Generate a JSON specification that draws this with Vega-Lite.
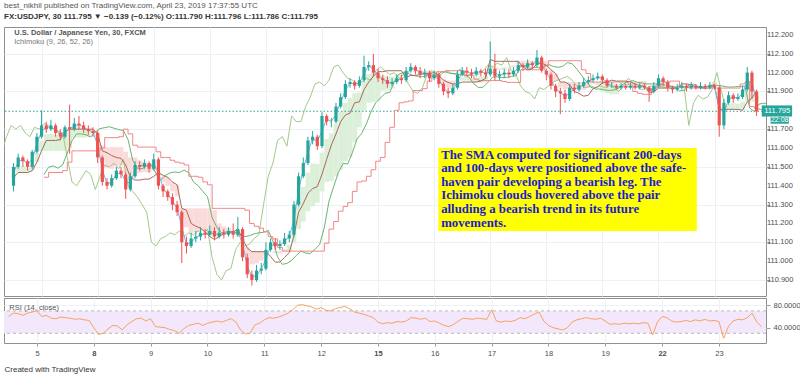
{
"$schema": "https://vega.github.io/schema/vega-lite/v6.json",
"background": "white",
"padding": {"left": 3, "top": 1, "right": 0, "bottom": 0},
"spacing": 0,
"config": {
  "font": "Liberation Sans",
  "view": {"stroke": "#8f8f8f", "strokeWidth": 1},
  "axis": {"labelFont": "Liberation Sans", "labelFontSize": 7.5, "labelColor": "#4d4d4d", "gridColor": "#edf0f4", "gridWidth": 1, "domain": false, "tickColor": "#9a9a9a", "labelOverlap": false, "labelBound": false, "labelFlush": false}
},
"title": {
  "text": "best_nikhil published on TradingView.com, April 23, 2019 17:37:55 UTC",
  "subtitle": "FX:USDJPY, 30  111.795 ▼ −0.139 (−0.12%)  O:111.790  H:111.796  L:111.786  C:111.795",
  "anchor": "start", "frame": "group", "font": "Liberation Sans", "fontSize": 8, "fontWeight": "normal", "color": "#555555",
  "subtitleFont": "Liberation Sans", "subtitleFontSize": 8, "subtitleFontWeight": "bold", "subtitleColor": "#333333", "subtitlePadding": 3, "offset": 6
},
"datasets": {"one": [{}],
"ticks": [{"v":110.9},{"v":111.0},{"v":111.1},{"v":111.2},{"v":111.3},{"v":111.4},{"v":111.5},{"v":111.6},{"v":111.7},{"v":111.9},{"v":112.0},{"v":112.1},{"v":112.2}],
"bars": [
{"k":0,"kc":-6.5,"kl":6.5,"o":111.40,"h":111.52,"l":111.37,"c":111.50,"tk":111.47,"kj":111.445,"sa":111.458,"sb":111.445,"r":60},
{"k":1,"kc":-5.5,"kl":7.5,"o":111.50,"h":111.57,"l":111.49,"c":111.55,"tk":111.525,"kj":111.47,"sa":111.498,"sb":111.47,"r":66},
{"k":2,"kc":-4.5,"kl":8.5,"o":111.55,"h":111.56,"l":111.50,"c":111.53,"tk":111.54,"kj":111.47,"sa":111.505,"sb":111.47,"r":65},
{"k":3,"kc":-3.5,"kl":9.5,"o":111.53,"h":111.54,"l":111.48,"c":111.50,"tk":111.515,"kj":111.47,"sa":111.493,"sb":111.47,"r":62},
{"k":4,"kc":-2.5,"kl":10.5,"o":111.50,"h":111.59,"l":111.49,"c":111.58,"tk":111.54,"kj":111.48,"sa":111.51,"sb":111.48,"r":66},
{"k":5,"kc":-1.5,"kl":11.5,"o":111.58,"h":111.68,"l":111.57,"c":111.66,"tk":111.62,"kj":111.525,"sa":111.573,"sb":111.525,"r":68},
{"k":6,"kc":-0.5,"kl":12.5,"o":111.66,"h":111.80,"l":111.65,"c":111.72,"tk":111.69,"kj":111.585,"sa":111.638,"sb":111.585,"r":70},
{"k":7,"kc":0.5,"kl":13.5,"o":111.72,"h":111.74,"l":111.68,"c":111.70,"tk":111.71,"kj":111.64,"sa":111.675,"sb":111.585,"r":60},
{"k":8,"kc":1.5,"kl":14.5,"o":111.70,"h":111.75,"l":111.69,"c":111.72,"tk":111.71,"kj":111.64,"sa":111.675,"sb":111.585,"r":62},
{"k":9,"kc":2.5,"kl":15.5,"o":111.72,"h":111.73,"l":111.66,"c":111.68,"tk":111.70,"kj":111.64,"sa":111.67,"sb":111.585,"r":57},
{"k":10,"kc":3.5,"kl":16.5,"o":111.68,"h":111.70,"l":111.64,"c":111.66,"tk":111.67,"kj":111.645,"sa":111.658,"sb":111.585,"r":56},
{"k":11,"kc":4.5,"kl":17.5,"o":111.66,"h":111.72,"l":111.65,"c":111.71,"tk":111.685,"kj":111.685,"sa":111.685,"sb":111.585,"r":59},
{"k":12,"kc":5.5,"kl":18.5,"o":111.71,"h":111.83,"l":111.57,"c":111.70,"tk":111.705,"kj":111.70,"sa":111.703,"sb":111.60,"r":58},
{"k":13,"kc":6.5,"kl":19.5,"o":111.70,"h":111.76,"l":111.69,"c":111.73,"tk":111.715,"kj":111.70,"sa":111.708,"sb":111.655,"r":57},
{"k":14,"kc":7.5,"kl":20.5,"o":111.73,"h":111.77,"l":111.70,"c":111.72,"tk":111.725,"kj":111.70,"sa":111.713,"sb":111.655,"r":55},
{"k":15,"kc":8.5,"kl":21.5,"o":111.72,"h":111.74,"l":111.68,"c":111.70,"tk":111.71,"kj":111.70,"sa":111.705,"sb":111.655,"r":56},
{"k":16,"kc":9.5,"kl":22.5,"o":111.70,"h":111.72,"l":111.67,"c":111.69,"tk":111.695,"kj":111.70,"sa":111.698,"sb":111.66,"r":54},
{"k":17,"kc":10.5,"kl":23.5,"o":111.69,"h":111.71,"l":111.66,"c":111.68,"tk":111.685,"kj":111.70,"sa":111.693,"sb":111.70,"r":53},
{"k":18,"kc":11.5,"kl":24.5,"o":111.68,"h":111.69,"l":111.52,"c":111.55,"tk":111.615,"kj":111.675,"sa":111.645,"sb":111.675,"r":40},
{"k":19,"kc":12.5,"kl":25.5,"o":111.55,"h":111.56,"l":111.40,"c":111.42,"tk":111.485,"kj":111.585,"sa":111.535,"sb":111.615,"r":28},
{"k":20,"kc":13.5,"kl":26.5,"o":111.42,"h":111.44,"l":111.38,"c":111.40,"tk":111.41,"kj":111.575,"sa":111.493,"sb":111.605,"r":30},
{"k":21,"kc":14.5,"kl":27.5,"o":111.40,"h":111.46,"l":111.39,"c":111.44,"tk":111.42,"kj":111.56,"sa":111.49,"sb":111.605,"r":38},
{"k":22,"kc":15.5,"kl":28.5,"o":111.44,"h":111.50,"l":111.43,"c":111.48,"tk":111.46,"kj":111.55,"sa":111.505,"sb":111.605,"r":44},
{"k":23,"kc":16.5,"kl":29.5,"o":111.48,"h":111.50,"l":111.44,"c":111.46,"tk":111.47,"kj":111.545,"sa":111.508,"sb":111.605,"r":43},
{"k":24,"kc":17.5,"kl":30.5,"o":111.46,"h":111.47,"l":111.33,"c":111.38,"tk":111.42,"kj":111.51,"sa":111.465,"sb":111.58,"r":36},
{"k":25,"kc":18.5,"kl":31.5,"o":111.38,"h":111.47,"l":111.37,"c":111.45,"tk":111.415,"kj":111.445,"sa":111.43,"sb":111.55,"r":45},
{"k":26,"kc":19.5,"kl":32.5,"o":111.45,"h":111.53,"l":111.44,"c":111.51,"tk":111.48,"kj":111.43,"sa":111.455,"sb":111.55,"r":51},
{"k":27,"kc":20.5,"kl":33.5,"o":111.51,"h":111.53,"l":111.48,"c":111.50,"tk":111.505,"kj":111.43,"sa":111.468,"sb":111.535,"r":56},
{"k":28,"kc":21.5,"kl":34.5,"o":111.50,"h":111.54,"l":111.49,"c":111.52,"tk":111.51,"kj":111.435,"sa":111.473,"sb":111.525,"r":57},
{"k":29,"kc":22.5,"kl":35.5,"o":111.52,"h":111.53,"l":111.47,"c":111.49,"tk":111.505,"kj":111.435,"sa":111.47,"sb":111.52,"r":52},
{"k":30,"kc":23.5,"kl":36.5,"o":111.49,"h":111.57,"l":111.48,"c":111.54,"tk":111.515,"kj":111.45,"sa":111.483,"sb":111.51,"r":56},
{"k":31,"kc":24.5,"kl":37.5,"o":111.54,"h":111.55,"l":111.38,"c":111.40,"tk":111.47,"kj":111.47,"sa":111.47,"sb":111.45,"r":42},
{"k":32,"kc":25.5,"kl":38.5,"o":111.40,"h":111.41,"l":111.34,"c":111.37,"tk":111.385,"kj":111.455,"sa":111.42,"sb":111.45,"r":41},
{"k":33,"kc":26.5,"kl":39.5,"o":111.37,"h":111.38,"l":111.32,"c":111.34,"tk":111.355,"kj":111.445,"sa":111.40,"sb":111.445,"r":40},
{"k":34,"kc":27.5,"kl":40.5,"o":111.34,"h":111.36,"l":111.27,"c":111.30,"tk":111.32,"kj":111.42,"sa":111.37,"sb":111.42,"r":37},
{"k":35,"kc":28.5,"kl":41.5,"o":111.30,"h":111.32,"l":111.24,"c":111.26,"tk":111.28,"kj":111.405,"sa":111.343,"sb":111.405,"r":35},
{"k":36,"kc":29.5,"kl":42.5,"o":111.26,"h":111.27,"l":110.99,"c":111.10,"tk":111.18,"kj":111.28,"sa":111.23,"sb":111.28,"r":30},
{"k":37,"kc":30.5,"kl":43.5,"o":111.10,"h":111.13,"l":111.04,"c":111.08,"tk":111.09,"kj":111.27,"sa":111.18,"sb":111.28,"r":38},
{"k":38,"kc":31.5,"kl":44.5,"o":111.08,"h":111.15,"l":111.07,"c":111.12,"tk":111.10,"kj":111.20,"sa":111.15,"sb":111.28,"r":44},
{"k":39,"kc":32.5,"kl":45.5,"o":111.12,"h":111.16,"l":111.10,"c":111.13,"tk":111.125,"kj":111.185,"sa":111.155,"sb":111.28,"r":46},
{"k":40,"kc":33.5,"kl":46.5,"o":111.13,"h":111.18,"l":111.11,"c":111.15,"tk":111.14,"kj":111.175,"sa":111.158,"sb":111.28,"r":48},
{"k":41,"kc":34.5,"kl":47.5,"o":111.15,"h":111.17,"l":111.12,"c":111.14,"tk":111.145,"kj":111.155,"sa":111.15,"sb":111.28,"r":44},
{"k":42,"kc":35.5,"kl":48.5,"o":111.14,"h":111.19,"l":111.13,"c":111.16,"tk":111.15,"kj":111.13,"sa":111.14,"sb":111.28,"r":48},
{"k":43,"kc":36.5,"kl":49.5,"o":111.16,"h":111.18,"l":111.11,"c":111.13,"tk":111.145,"kj":111.115,"sa":111.13,"sb":111.27,"r":50},
{"k":44,"kc":37.5,"kl":50.5,"o":111.13,"h":111.18,"l":111.12,"c":111.15,"tk":111.14,"kj":111.13,"sa":111.135,"sb":111.20,"r":52},
{"k":45,"kc":38.5,"kl":51.5,"o":111.15,"h":111.17,"l":111.12,"c":111.14,"tk":111.145,"kj":111.145,"sa":111.145,"sb":111.185,"r":50},
{"k":46,"kc":39.5,"kl":52.5,"o":111.14,"h":111.18,"l":111.13,"c":111.16,"tk":111.15,"kj":111.15,"sa":111.15,"sb":111.175,"r":53},
{"k":47,"kc":40.5,"kl":53.5,"o":111.16,"h":111.20,"l":111.12,"c":111.14,"tk":111.15,"kj":111.155,"sa":111.153,"sb":111.155,"r":56},
{"k":48,"kc":41.5,"kl":54.5,"o":111.14,"h":111.235,"l":111.13,"c":111.17,"tk":111.155,"kj":111.17,"sa":111.163,"sb":111.13,"r":50},
{"k":49,"kc":42.5,"kl":55.5,"o":111.17,"h":111.18,"l":111.00,"c":111.02,"tk":111.095,"kj":111.118,"sa":111.106,"sb":111.118,"r":36},
{"k":50,"kc":43.5,"kl":56.5,"o":111.02,"h":111.04,"l":110.91,"c":110.93,"tk":110.975,"kj":111.07,"sa":111.023,"sb":111.073,"r":29},
{"k":51,"kc":44.5,"kl":57.5,"o":110.93,"h":110.95,"l":110.87,"c":110.90,"tk":110.915,"kj":111.05,"sa":110.983,"sb":111.053,"r":30},
{"k":52,"kc":45.5,"kl":58.5,"o":110.90,"h":110.98,"l":110.89,"c":110.95,"tk":110.925,"kj":111.05,"sa":110.988,"sb":111.053,"r":45},
{"k":53,"kc":46.5,"kl":59.5,"o":110.95,"h":110.99,"l":110.93,"c":110.96,"tk":110.955,"kj":111.05,"sa":111.003,"sb":111.053,"r":48},
{"k":54,"kc":47.5,"kl":60.5,"o":110.96,"h":111.10,"l":110.95,"c":111.06,"tk":111.01,"kj":111.05,"sa":111.03,"sb":111.053,"r":54},
{"k":55,"kc":48.5,"kl":61.5,"o":111.06,"h":111.12,"l":111.05,"c":111.10,"tk":111.08,"kj":111.025,"sa":111.053,"sb":111.053,"r":58},
{"k":56,"kc":49.5,"kl":62.5,"o":111.10,"h":111.12,"l":111.06,"c":111.08,"tk":111.09,"kj":110.995,"sa":111.043,"sb":111.053,"r":57},
{"k":57,"kc":50.5,"kl":63.5,"o":111.08,"h":111.11,"l":111.06,"c":111.09,"tk":111.085,"kj":110.995,"sa":111.04,"sb":111.053,"r":59},
{"k":58,"kc":51.5,"kl":64.5,"o":111.09,"h":111.15,"l":111.08,"c":111.12,"tk":111.105,"kj":111.02,"sa":111.063,"sb":111.053,"r":62},
{"k":59,"kc":52.5,"kl":65.5,"o":111.12,"h":111.16,"l":111.10,"c":111.14,"tk":111.13,"kj":111.045,"sa":111.088,"sb":111.053,"r":66},
{"k":60,"kc":53.5,"kl":66.5,"o":111.14,"h":111.32,"l":111.13,"c":111.30,"tk":111.22,"kj":111.135,"sa":111.178,"sb":111.095,"r":72},
{"k":61,"kc":54.5,"kl":67.5,"o":111.30,"h":111.47,"l":111.29,"c":111.45,"tk":111.375,"kj":111.26,"sa":111.318,"sb":111.17,"r":80},
{"k":62,"kc":55.5,"kl":68.5,"o":111.45,"h":111.55,"l":111.44,"c":111.52,"tk":111.485,"kj":111.305,"sa":111.395,"sb":111.21,"r":81},
{"k":63,"kc":56.5,"kl":69.5,"o":111.52,"h":111.66,"l":111.51,"c":111.64,"tk":111.58,"kj":111.36,"sa":111.47,"sb":111.265,"r":79},
{"k":64,"kc":57.5,"kl":70.5,"o":111.64,"h":111.69,"l":111.62,"c":111.66,"tk":111.65,"kj":111.385,"sa":111.518,"sb":111.29,"r":77},
{"k":65,"kc":58.5,"kl":71.5,"o":111.66,"h":111.67,"l":111.59,"c":111.61,"tk":111.635,"kj":111.395,"sa":111.515,"sb":111.31,"r":73},
{"k":66,"kc":59.5,"kl":72.5,"o":111.61,"h":111.79,"l":111.60,"c":111.77,"tk":111.69,"kj":111.46,"sa":111.575,"sb":111.37,"r":76},
{"k":67,"kc":60.5,"kl":73.5,"o":111.77,"h":111.78,"l":111.72,"c":111.74,"tk":111.755,"kj":111.54,"sa":111.648,"sb":111.42,"r":71},
{"k":68,"kc":61.5,"kl":74.5,"o":111.74,"h":111.76,"l":111.71,"c":111.74,"tk":111.74,"kj":111.615,"sa":111.678,"sb":111.425,"r":70},
{"k":69,"kc":62.5,"kl":75.5,"o":111.74,"h":111.84,"l":111.73,"c":111.82,"tk":111.78,"kj":111.675,"sa":111.728,"sb":111.45,"r":74},
{"k":70,"kc":63.5,"kl":76.5,"o":111.82,"h":111.89,"l":111.81,"c":111.87,"tk":111.845,"kj":111.74,"sa":111.793,"sb":111.485,"r":76},
{"k":71,"kc":64.5,"kl":77.5,"o":111.87,"h":111.96,"l":111.86,"c":111.94,"tk":111.905,"kj":111.775,"sa":111.84,"sb":111.53,"r":78},
{"k":72,"kc":65.5,"kl":78.5,"o":111.94,"h":111.97,"l":111.92,"c":111.95,"tk":111.945,"kj":111.785,"sa":111.865,"sb":111.55,"r":74},
{"k":73,"kc":66.5,"kl":79.5,"o":111.95,"h":111.96,"l":111.91,"c":111.93,"tk":111.94,"kj":111.84,"sa":111.89,"sb":111.63,"r":68},
{"k":74,"kc":67.5,"kl":80.5,"o":111.93,"h":111.98,"l":111.92,"c":111.96,"tk":111.945,"kj":111.845,"sa":111.895,"sb":111.71,"r":66},
{"k":75,"kc":68.5,"kl":81.5,"o":111.96,"h":112.09,"l":111.95,"c":112.03,"tk":111.995,"kj":111.91,"sa":111.953,"sb":111.80,"r":64},
{"k":76,"kc":69.5,"kl":82.5,"o":112.03,"h":112.06,"l":112.01,"c":112.04,"tk":112.035,"kj":111.95,"sa":111.993,"sb":111.84,"r":61},
{"k":77,"kc":70.5,"kl":83.5,"o":112.04,"h":112.10,"l":111.98,"c":112.00,"tk":112.02,"kj":111.98,"sa":112.00,"sb":111.845,"r":58},
{"k":78,"kc":71.5,"kl":84.5,"o":112.00,"h":112.02,"l":111.95,"c":111.97,"tk":111.985,"kj":112.005,"sa":111.995,"sb":111.85,"r":50},
{"k":79,"kc":72.5,"kl":85.5,"o":111.97,"h":111.99,"l":111.94,"c":111.96,"tk":111.965,"kj":112.005,"sa":111.985,"sb":111.905,"r":47},
{"k":80,"kc":73.5,"kl":86.5,"o":111.96,"h":111.98,"l":111.92,"c":111.94,"tk":111.95,"kj":112.01,"sa":111.98,"sb":111.905,"r":49},
{"k":81,"kc":74.5,"kl":87.5,"o":111.94,"h":111.97,"l":111.93,"c":111.95,"tk":111.945,"kj":112.01,"sa":111.978,"sb":111.915,"r":48},
{"k":82,"kc":75.5,"kl":88.5,"o":111.95,"h":111.99,"l":111.94,"c":111.97,"tk":111.96,"kj":112.01,"sa":111.985,"sb":111.955,"r":51},
{"k":83,"kc":76.5,"kl":89.5,"o":111.97,"h":111.99,"l":111.94,"c":111.96,"tk":111.965,"kj":112.01,"sa":111.988,"sb":111.98,"r":50},
{"k":84,"kc":77.5,"kl":90.5,"o":111.96,"h":112.03,"l":111.95,"c":112.01,"tk":111.985,"kj":111.975,"sa":111.98,"sb":112.005,"r":52},
{"k":85,"kc":78.5,"kl":91.5,"o":112.01,"h":112.05,"l":112.00,"c":112.03,"tk":112.02,"kj":111.985,"sa":112.003,"sb":112.005,"r":58},
{"k":86,"kc":79.5,"kl":92.5,"o":112.03,"h":112.04,"l":111.99,"c":112.01,"tk":112.02,"kj":111.985,"sa":112.003,"sb":112.01,"r":57},
{"k":87,"kc":80.5,"kl":93.5,"o":112.01,"h":112.03,"l":111.97,"c":111.99,"tk":112.00,"kj":111.99,"sa":111.995,"sb":112.01,"r":55},
{"k":88,"kc":81.5,"kl":94.5,"o":111.99,"h":112.02,"l":111.97,"c":112.00,"tk":111.995,"kj":111.995,"sa":111.995,"sb":112.01,"r":57},
{"k":89,"kc":82.5,"kl":95.5,"o":112.00,"h":112.01,"l":111.95,"c":111.97,"tk":111.985,"kj":111.995,"sa":111.99,"sb":112.01,"r":51},
{"k":90,"kc":83.5,"kl":96.5,"o":111.97,"h":112.01,"l":111.96,"c":111.99,"tk":111.98,"kj":112.00,"sa":111.99,"sb":111.985,"r":52},
{"k":91,"kc":84.5,"kl":97.5,"o":111.99,"h":112.00,"l":111.92,"c":111.94,"tk":111.965,"kj":111.985,"sa":111.975,"sb":111.985,"r":48},
{"k":92,"kc":85.5,"kl":98.5,"o":111.94,"h":111.95,"l":111.88,"c":111.90,"tk":111.92,"kj":111.96,"sa":111.94,"sb":111.965,"r":44},
{"k":93,"kc":86.5,"kl":99.5,"o":111.90,"h":111.92,"l":111.865,"c":111.89,"tk":111.895,"kj":111.948,"sa":111.921,"sb":111.958,"r":42},
{"k":94,"kc":87.5,"kl":100.5,"o":111.89,"h":111.94,"l":111.88,"c":111.92,"tk":111.905,"kj":111.94,"sa":111.923,"sb":111.958,"r":46},
{"k":95,"kc":88.5,"kl":101.5,"o":111.92,"h":112.01,"l":111.91,"c":111.99,"tk":111.955,"kj":111.94,"sa":111.948,"sb":111.958,"r":52},
{"k":96,"kc":89.5,"kl":102.5,"o":111.99,"h":112.03,"l":111.98,"c":112.01,"tk":112.00,"kj":111.95,"sa":111.975,"sb":111.958,"r":57},
{"k":97,"kc":90.5,"kl":103.5,"o":112.01,"h":112.03,"l":111.98,"c":112.00,"tk":112.005,"kj":111.95,"sa":111.978,"sb":111.958,"r":56},
{"k":98,"kc":91.5,"kl":104.5,"o":112.00,"h":112.02,"l":111.97,"c":111.99,"tk":111.995,"kj":111.95,"sa":111.973,"sb":111.953,"r":55},
{"k":99,"kc":92.5,"kl":105.5,"o":111.99,"h":112.03,"l":111.98,"c":112.01,"tk":112.00,"kj":111.95,"sa":111.975,"sb":111.948,"r":57},
{"k":100,"kc":93.5,"kl":106.5,"o":112.01,"h":112.02,"l":111.98,"c":112.00,"tk":112.005,"kj":111.955,"sa":111.98,"sb":111.948,"r":56},
{"k":101,"kc":94.5,"kl":107.5,"o":112.00,"h":112.02,"l":111.97,"c":111.99,"tk":111.995,"kj":111.97,"sa":111.983,"sb":111.948,"r":55},
{"k":102,"kc":95.5,"kl":108.5,"o":111.99,"h":112.165,"l":111.98,"c":112.02,"tk":112.005,"kj":112.07,"sa":112.038,"sb":112.015,"r":72},
{"k":103,"kc":96.5,"kl":109.5,"o":112.02,"h":112.10,"l":111.96,"c":111.98,"tk":112.00,"kj":112.06,"sa":112.03,"sb":112.015,"r":52},
{"k":104,"kc":97.5,"kl":110.5,"o":111.98,"h":112.01,"l":111.96,"c":111.99,"tk":111.985,"kj":112.06,"sa":112.023,"sb":112.015,"r":50},
{"k":105,"kc":98.5,"kl":111.5,"o":111.99,"h":112.02,"l":111.97,"c":112.00,"tk":111.995,"kj":112.06,"sa":112.028,"sb":112.015,"r":52},
{"k":106,"kc":99.5,"kl":112.5,"o":112.00,"h":112.02,"l":111.97,"c":111.99,"tk":111.995,"kj":112.06,"sa":112.028,"sb":112.023,"r":51},
{"k":107,"kc":100.5,"kl":113.5,"o":111.99,"h":112.03,"l":111.98,"c":112.01,"tk":112.00,"kj":112.06,"sa":112.03,"sb":112.038,"r":53},
{"k":108,"kc":101.5,"kl":114.5,"o":112.01,"h":112.06,"l":112.00,"c":112.04,"tk":112.025,"kj":112.06,"sa":112.043,"sb":112.063,"r":58},
{"k":109,"kc":102.5,"kl":115.5,"o":112.04,"h":112.05,"l":112.01,"c":112.03,"tk":112.035,"kj":112.03,"sa":112.033,"sb":112.063,"r":56},
{"k":110,"kc":103.5,"kl":116.5,"o":112.03,"h":112.07,"l":112.02,"c":112.05,"tk":112.04,"kj":112.015,"sa":112.028,"sb":112.063,"r":60},
{"k":111,"kc":104.5,"kl":117.5,"o":112.05,"h":112.06,"l":112.02,"c":112.04,"tk":112.045,"kj":112.02,"sa":112.033,"sb":112.063,"r":64},
{"k":112,"kc":105.5,"kl":118.5,"o":112.04,"h":112.12,"l":112.03,"c":112.08,"tk":112.06,"kj":112.045,"sa":112.053,"sb":112.063,"r":68},
{"k":113,"kc":106.5,"kl":119.5,"o":112.08,"h":112.09,"l":112.00,"c":112.01,"tk":112.045,"kj":112.05,"sa":112.048,"sb":112.063,"r":52},
{"k":114,"kc":107.5,"kl":120.5,"o":112.01,"h":112.02,"l":111.96,"c":111.99,"tk":112.00,"kj":112.04,"sa":112.02,"sb":112.063,"r":44},
{"k":115,"kc":108.5,"kl":121.5,"o":111.99,"h":112.00,"l":111.91,"c":111.93,"tk":111.96,"kj":112.015,"sa":111.988,"sb":112.015,"r":40},
{"k":116,"kc":109.5,"kl":122.5,"o":111.93,"h":111.94,"l":111.87,"c":111.90,"tk":111.915,"kj":111.995,"sa":111.955,"sb":111.995,"r":38},
{"k":117,"kc":110.5,"kl":123.5,"o":111.90,"h":111.92,"l":111.78,"c":111.89,"tk":111.895,"kj":111.95,"sa":111.923,"sb":111.95,"r":36},
{"k":118,"kc":111.5,"kl":124.5,"o":111.89,"h":111.91,"l":111.84,"c":111.86,"tk":111.875,"kj":111.95,"sa":111.913,"sb":111.95,"r":40},
{"k":119,"kc":112.5,"kl":125.5,"o":111.86,"h":111.94,"l":111.85,"c":111.92,"tk":111.89,"kj":111.935,"sa":111.913,"sb":111.95,"r":50},
{"k":120,"kc":113.5,"kl":126.5,"o":111.92,"h":111.94,"l":111.89,"c":111.91,"tk":111.915,"kj":111.90,"sa":111.908,"sb":111.95,"r":54},
{"k":121,"kc":114.5,"kl":127.5,"o":111.91,"h":111.95,"l":111.90,"c":111.93,"tk":111.92,"kj":111.89,"sa":111.905,"sb":111.95,"r":56},
{"k":122,"kc":115.5,"kl":128.5,"o":111.93,"h":111.97,"l":111.92,"c":111.95,"tk":111.94,"kj":111.875,"sa":111.908,"sb":111.95,"r":58},
{"k":123,"kc":116.5,"kl":129.5,"o":111.95,"h":111.98,"l":111.94,"c":111.96,"tk":111.955,"kj":111.88,"sa":111.918,"sb":111.95,"r":56},
{"k":124,"kc":117.5,"kl":130.5,"o":111.96,"h":111.99,"l":111.95,"c":111.97,"tk":111.965,"kj":111.915,"sa":111.94,"sb":111.95,"r":55},
{"k":125,"kc":118.5,"kl":131.5,"o":111.97,"h":112.00,"l":111.96,"c":111.98,"tk":111.975,"kj":111.925,"sa":111.95,"sb":111.935,"r":57},
{"k":126,"kc":119.5,"kl":132.5,"o":111.98,"h":111.99,"l":111.94,"c":111.96,"tk":111.97,"kj":111.945,"sa":111.958,"sb":111.90,"r":52},
{"k":127,"kc":120.5,"kl":133.5,"o":111.96,"h":111.97,"l":111.92,"c":111.93,"tk":111.945,"kj":111.95,"sa":111.948,"sb":111.89,"r":46},
{"k":128,"kc":121.5,"kl":134.5,"o":111.93,"h":111.95,"l":111.92,"c":111.93,"tk":111.93,"kj":111.96,"sa":111.945,"sb":111.885,"r":47},
{"k":129,"kc":122.5,"kl":135.5,"o":111.93,"h":111.94,"l":111.91,"c":111.92,"tk":111.925,"kj":111.955,"sa":111.94,"sb":111.885,"r":46},
{"k":130,"kc":123.5,"kl":136.5,"o":111.92,"h":111.945,"l":111.91,"c":111.93,"tk":111.925,"kj":111.955,"sa":111.94,"sb":111.915,"r":48},
{"k":131,"kc":124.5,"kl":137.5,"o":111.93,"h":111.94,"l":111.91,"c":111.92,"tk":111.925,"kj":111.955,"sa":111.94,"sb":111.925,"r":47},
{"k":132,"kc":125.5,"kl":138.5,"o":111.92,"h":111.945,"l":111.91,"c":111.93,"tk":111.925,"kj":111.95,"sa":111.938,"sb":111.945,"r":48},
{"k":133,"kc":126.5,"kl":139.5,"o":111.93,"h":111.94,"l":111.91,"c":111.92,"tk":111.925,"kj":111.94,"sa":111.933,"sb":111.95,"r":47},
{"k":134,"kc":127.5,"kl":140.5,"o":111.92,"h":111.945,"l":111.91,"c":111.93,"tk":111.925,"kj":111.93,"sa":111.928,"sb":111.955,"r":49},
{"k":135,"kc":128.5,"kl":141.5,"o":111.93,"h":111.94,"l":111.91,"c":111.92,"tk":111.925,"kj":111.928,"sa":111.926,"sb":111.955,"r":48},
{"k":136,"kc":129.5,"kl":142.5,"o":111.92,"h":111.93,"l":111.845,"c":111.90,"tk":111.91,"kj":111.895,"sa":111.903,"sb":111.923,"r":27},
{"k":137,"kc":130.5,"kl":143.5,"o":111.90,"h":111.95,"l":111.89,"c":111.93,"tk":111.915,"kj":111.898,"sa":111.906,"sb":111.923,"r":50},
{"k":138,"kc":131.5,"kl":144.5,"o":111.93,"h":111.99,"l":111.92,"c":111.97,"tk":111.95,"kj":111.918,"sa":111.934,"sb":111.918,"r":60},
{"k":139,"kc":132.5,"kl":145.5,"o":111.97,"h":111.98,"l":111.93,"c":111.95,"tk":111.96,"kj":111.918,"sa":111.939,"sb":111.918,"r":58},
{"k":140,"kc":133.5,"kl":146.5,"o":111.95,"h":111.96,"l":111.90,"c":111.92,"tk":111.935,"kj":111.918,"sa":111.926,"sb":111.918,"r":52},
{"k":141,"kc":134.5,"kl":147.5,"o":111.92,"h":111.93,"l":111.89,"c":111.91,"tk":111.915,"kj":111.918,"sa":111.916,"sb":111.918,"r":50},
{"k":142,"kc":135.5,"kl":148.5,"o":111.91,"h":111.94,"l":111.90,"c":111.92,"tk":111.915,"kj":111.918,"sa":111.916,"sb":111.918,"r":51},
{"k":143,"kc":136.5,"kl":149.5,"o":111.92,"h":111.95,"l":111.91,"c":111.93,"tk":111.925,"kj":111.94,"sa":111.933,"sb":111.918,"r":53},
{"k":144,"kc":137.5,"kl":150.5,"o":111.93,"h":111.94,"l":111.90,"c":111.92,"tk":111.925,"kj":111.94,"sa":111.933,"sb":111.918,"r":51},
{"k":145,"kc":138.5,"kl":151.5,"o":111.92,"h":111.95,"l":111.91,"c":111.93,"tk":111.925,"kj":111.935,"sa":111.93,"sb":111.918,"r":54},
{"k":146,"kc":139.5,"kl":152.5,"o":111.93,"h":111.94,"l":111.91,"c":111.92,"tk":111.925,"kj":111.925,"sa":111.925,"sb":111.918,"r":52},
{"k":147,"kc":140.5,"kl":153.5,"o":111.92,"h":111.95,"l":111.91,"c":111.93,"tk":111.925,"kj":111.92,"sa":111.923,"sb":111.918,"r":55},
{"k":148,"kc":141.5,"kl":154.5,"o":111.93,"h":111.94,"l":111.91,"c":111.92,"tk":111.925,"kj":111.925,"sa":111.925,"sb":111.918,"r":52},
{"k":149,"kc":142.5,"kl":155.5,"o":111.92,"h":111.95,"l":111.91,"c":111.93,"tk":111.925,"kj":111.93,"sa":111.928,"sb":111.94,"r":53},
{"k":150,"kc":143.5,"kl":156.5,"o":111.93,"h":111.94,"l":111.91,"c":111.92,"tk":111.925,"kj":111.93,"sa":111.928,"sb":111.95,"r":51},
{"k":151,"kc":144.5,"kl":157.5,"o":111.92,"h":111.93,"l":111.66,"c":111.72,"tk":111.82,"kj":111.805,"sa":111.813,"sb":111.82,"r":21},
{"k":152,"kc":145.5,"kl":158.5,"o":111.72,"h":111.86,"l":111.70,"c":111.84,"tk":111.78,"kj":111.805,"sa":111.793,"sb":111.81,"r":42},
{"k":153,"kc":146.5,"kl":159.5,"o":111.84,"h":111.90,"l":111.83,"c":111.88,"tk":111.86,"kj":111.805,"sa":111.833,"sb":111.805,"r":52},
{"k":154,"kc":147.5,"kl":160.5,"o":111.88,"h":111.89,"l":111.84,"c":111.86,"tk":111.87,"kj":111.805,"sa":111.838,"sb":111.805,"r":55},
{"k":155,"kc":148.5,"kl":161.5,"o":111.86,"h":111.89,"l":111.85,"c":111.87,"tk":111.865,"kj":111.805,"sa":111.835,"sb":111.805,"r":54},
{"k":156,"kc":149.5,"kl":162.5,"o":111.87,"h":111.93,"l":111.86,"c":111.91,"tk":111.89,"kj":111.80,"sa":111.845,"sb":111.805,"r":58},
{"k":157,"kc":150.5,"kl":163.5,"o":111.91,"h":112.03,"l":111.90,"c":112.00,"tk":111.955,"kj":111.845,"sa":111.90,"sb":111.845,"r":66},
{"k":158,"kc":151.5,"kl":164.5,"o":112.00,"h":112.01,"l":111.86,"c":111.90,"tk":111.95,"kj":111.865,"sa":111.908,"sb":111.845,"r":50},
{"k":159,"kc":152.5,"kl":165.5,"o":111.90,"h":111.91,"l":111.77,"c":111.795,"tk":111.85,"kj":111.90,"sa":111.875,"sb":111.845,"r":42}
]},
"vconcat": [
{
  "width": 762, "height": 269,
  "data": {"name": "bars"},
  "layer": [
    {"mark": {"type": "bar", "width": 4.8, "clip": true},
     "encoding": {
       "x": {"field": "k", "type": "quantitative", "title": null, "scale": {"domain": [-0.97, 159.94], "nice": false, "zero": false},
             "axis": {"values": [6,18,30,42,54,66,78,90,102,114,126,138,150], "labels": false, "ticks": false, "grid": true}},
       "y": {"field": "sa", "type": "quantitative", "title": null, "scale": {"domain": [110.815, 112.242], "nice": false, "zero": false},
             "axis": {"orient": "right", "values": [110.9,111,111.1,111.2,111.3,111.4,111.5,111.6,111.7,111.8,111.9,112,112.1,112.2], "labels": false, "tickSize": 4, "grid": true}},
       "y2": {"field": "sb"},
       "color": {"condition": {"test": "datum.sa >= datum.sb", "value": "#dcefd8"}, "value": "#fbdada"}
     }},
    {"data": {"name": "one"}, "mark": {"type": "rule", "color": "#26a69a", "strokeDash": [1.5, 2], "strokeWidth": 1}, "encoding": {"y": {"datum": 111.795}}},
    {"mark": {"type": "line", "color": "#a3c98a", "strokeWidth": 1, "clip": true},
     "encoding": {"x": {"field": "kc", "type": "quantitative", "title": null}, "y": {"field": "c", "type": "quantitative", "title": null}}},
    {"mark": {"type": "line", "color": "#6bb56f", "strokeWidth": 1, "clip": true},
     "encoding": {"x": {"field": "kl", "type": "quantitative", "title": null}, "y": {"field": "sa", "type": "quantitative", "title": null}}},
    {"mark": {"type": "line", "color": "#f28686", "strokeWidth": 1, "clip": true, "interpolate": "step-after"},
     "encoding": {"x": {"field": "kl", "type": "quantitative", "title": null}, "y": {"field": "sb", "type": "quantitative", "title": null}}},
    {"mark": {"type": "line", "color": "#a8695c", "strokeWidth": 1, "clip": true},
     "encoding": {"x": {"field": "k", "type": "quantitative", "title": null}, "y": {"field": "kj", "type": "quantitative", "title": null}}},
    {"mark": {"type": "line", "color": "#74b6ef", "strokeWidth": 1, "clip": true},
     "encoding": {"x": {"field": "k", "type": "quantitative", "title": null}, "y": {"field": "tk", "type": "quantitative", "title": null}}},
    {"mark": {"type": "rule", "strokeWidth": 1},
     "encoding": {"x": {"field": "k", "type": "quantitative", "title": null}, "y": {"field": "l", "type": "quantitative", "title": null}, "y2": {"field": "h"},
       "color": {"condition": {"test": "datum.c >= datum.o", "value": "#26a69a"}, "value": "#ef5350"}}},
    {"mark": {"type": "bar", "width": 3.2},
     "encoding": {"x": {"field": "k", "type": "quantitative", "title": null}, "y": {"field": "o", "type": "quantitative", "title": null}, "y2": {"field": "c"},
       "color": {"condition": {"test": "datum.c >= datum.o", "value": "#26a69a"}, "value": "#ef5350"}}},
    {"data": {"name": "ticks"}, "mark": {"type": "text", "fontSize": 7.5, "color": "#4d4d4d", "align": "left", "baseline": "middle"},
     "encoding": {"x": {"datum": 161.2}, "y": {"field": "v", "type": "quantitative", "title": null}, "text": {"field": "v", "type": "quantitative", "format": ".3f"}}},
    {"data": {"name": "one"}, "mark": {"type": "rect", "color": "#ffff00"},
     "encoding": {"x": {"datum": 90.9}, "x2": {"datum": 146.2}, "y": {"datum": 111.60}, "y2": {"datum": 111.16}}},
    {"data": {"name": "one"}, "mark": {"type": "text", "font": "Liberation Serif", "fontWeight": "bold", "fontSize": 12.8, "color": "#1b1bd0", "align": "left", "baseline": "top", "lineHeight": 13.6, "lineBreak": "\n"},
     "encoding": {"x": {"datum": 91.5}, "y": {"datum": 111.597},
       "text": {"value": "The SMA computed for significant 200-days\nand 100-days were positioned above the safe-\nhaven pair developing a bearish leg. The\nIchimoku clouds hovered above the pair\nalluding a bearish trend in its future\nmovements."}}},
    {"data": {"name": "one"}, "mark": {"type": "text", "fontSize": 7.5, "fontWeight": "bold", "color": "#555555", "align": "left", "baseline": "middle"},
     "encoding": {"x": {"datum": 0.15}, "y": {"datum": 112.211}, "text": {"value": "U.S. Dollar / Japanese Yen, 30, FXCM"}}},
    {"data": {"name": "one"}, "mark": {"type": "text", "fontSize": 7.5, "color": "#777777", "align": "left", "baseline": "middle"},
     "encoding": {"x": {"datum": 0.15}, "y": {"datum": 112.164}, "text": {"value": "Ichimoku (9, 26, 52, 26)"}}},
    {"data": {"name": "one"}, "mark": {"type": "rect", "color": "#26a69a"},
     "encoding": {"x": {"datum": 160.1}, "x2": {"datum": 166.6}, "y": {"datum": 111.826}, "y2": {"datum": 111.767}}},
    {"data": {"name": "one"}, "mark": {"type": "text", "fontSize": 7.5, "color": "white", "align": "center", "baseline": "middle"},
     "encoding": {"x": {"datum": 163.4}, "y": {"datum": 111.796}, "text": {"value": "111.795"}}},
    {"data": {"name": "one"}, "mark": {"type": "rect", "color": "#26a69a"},
     "encoding": {"x": {"datum": 162.0}, "x2": {"datum": 165.9}, "y": {"datum": 111.764}, "y2": {"datum": 111.729}}},
    {"data": {"name": "one"}, "mark": {"type": "text", "fontSize": 7, "color": "white", "align": "center", "baseline": "middle"},
     "encoding": {"x": {"datum": 163.95}, "y": {"datum": 111.7465}, "text": {"value": "22:08"}}}
  ]
},
{
  "width": 762, "height": 45,
  "data": {"name": "bars"},
  "layer": [
    {"data": {"name": "one"}, "mark": {"type": "rect", "color": "#f3e7fc"},
     "encoding": {"x": {"datum": -0.97}, "x2": {"datum": 159.94},
       "y": {"datum": 70, "type": "quantitative", "scale": {"domain": [12.7, 93], "nice": false, "zero": false},
             "axis": {"orient": "right", "values": [40, 80], "format": ".4f", "labelOverlap": false, "tickSize": 4, "labelPadding": 3, "grid": true}},
       "y2": {"datum": 30}}},
    {"data": {"values": [{"lv": 70}, {"lv": 30}]},
     "mark": {"type": "rule", "color": "#b8b8b8", "strokeDash": [3, 3], "strokeWidth": 1},
     "encoding": {"y": {"field": "lv", "type": "quantitative", "title": null}}},
    {"mark": {"type": "line", "color": "#f7a25e", "strokeWidth": 1},
     "encoding": {
       "x": {"field": "k", "type": "quantitative", "title": "Created with TradingView", "scale": {"domain": [-0.97, 159.94], "nice": false, "zero": false},
             "axis": {"values": [6,18,30,42,54,66,78,90,102,114,126,138,150],
               "labelExpr": "['5','8','9','10','11','12','15','16','17','18','19','22','23'][round((datum.value-6)/12)]",
               "labelFontWeight": {"condition": {"test": "datum.value == 18 || datum.value == 78 || datum.value == 138", "value": "bold"}, "value": "normal"},
               "labelOverlap": false, "grid": true, "ticks": true, "tickSize": 3, "labelPadding": 3,
               "titleAnchor": "start", "titleAlign": "left", "titleX": 0, "titleY": 26, "titleFontSize": 8, "titleFontWeight": "normal", "titleColor": "#333333", "titleBaseline": "middle"}},
       "y": {"field": "r", "type": "quantitative", "title": null}}},
    {"data": {"name": "one"}, "mark": {"type": "text", "fontSize": 7.5, "color": "#555555", "align": "left", "baseline": "middle"},
     "encoding": {"x": {"datum": 0.15}, "y": {"datum": 76}, "text": {"value": "RSI (14, close)"}}}
  ]
}
]
}
